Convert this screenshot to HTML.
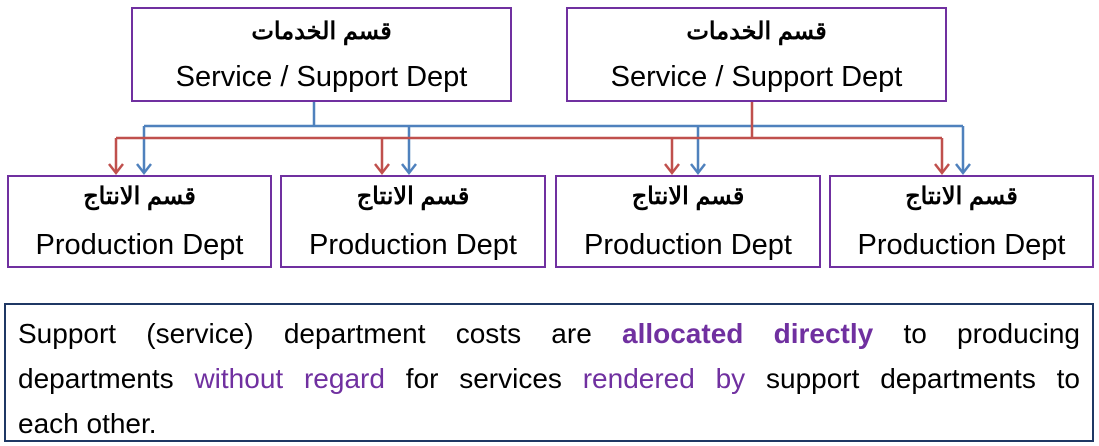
<!DOCTYPE html>
<html><head><meta charset="utf-8"><style>
body{margin:0;width:1099px;height:446px;background:#fff;position:relative;overflow:hidden;font-family:"Liberation Sans","Noto Sans CJK SC",sans-serif;}
.b{position:absolute;border:2px solid #7030a0;box-sizing:border-box;text-align:center;color:#000;white-space:nowrap;}
.ar{font-size:24px;font-weight:bold;line-height:30px;}
.en{font-size:29px;line-height:34px;}
.t{position:absolute;left:4px;top:303px;width:1090px;height:139px;border:2px solid #1f3864;box-sizing:border-box;padding:6px 12px;font-size:28px;line-height:45px;}
.l{text-align:justify;text-align-last:justify;white-space:nowrap;}
.p{color:#7030a0}
</style></head><body>
<svg style="position:absolute;left:0;top:0" width="1099" height="446">
<g stroke="#4f81bd" stroke-width="2.5" fill="none">
<path d="M314 101V126M144 126H963M144 126V173M409 126V173M698 126V173M963 126V173"/>
<path d="M137 164L144 173L151 164M402 164L409 173L416 164M691 164L698 173L705 164M956 164L963 173L970 164"/>
</g>
<g stroke="#c0504d" stroke-width="2.5" fill="none">
<path d="M752 101V138M116 138H942M116 138V173M382 138V173M672 138V173M942 138V173"/>
<path d="M109 164L116 173L123 164M375 164L382 173L389 164M665 164L672 173L679 164M935 164L942 173L949 164"/>
</g>
</svg>
<div class="b" style="left:131px;top:7px;width:381px;height:95px;padding-top:8px"><div class="ar" dir="rtl">قسم الخدمات</div><div class="en" style="margin-top:13px">Service / Support Dept</div></div>
<div class="b" style="left:566px;top:7px;width:381px;height:95px;padding-top:8px"><div class="ar" dir="rtl">قسم الخدمات</div><div class="en" style="margin-top:13px">Service / Support Dept</div></div>
<div class="b" style="left:7px;top:175px;width:265px;height:93px;padding-top:5px"><div class="ar" dir="rtl">قسم الانتاج</div><div class="en" style="margin-top:16px">Production Dept</div></div>
<div class="b" style="left:280px;top:175px;width:266px;height:93px;padding-top:5px"><div class="ar" dir="rtl">قسم الانتاج</div><div class="en" style="margin-top:16px">Production Dept</div></div>
<div class="b" style="left:555px;top:175px;width:266px;height:93px;padding-top:5px"><div class="ar" dir="rtl">قسم الانتاج</div><div class="en" style="margin-top:16px">Production Dept</div></div>
<div class="b" style="left:829px;top:175px;width:265px;height:93px;padding-top:5px"><div class="ar" dir="rtl">قسم الانتاج</div><div class="en" style="margin-top:16px">Production Dept</div></div>
<div class="t"><div class="l">Support (service) department costs are <b class="p">allocated directly</b> to producing</div><div class="l">departments <span class="p">without regard</span> for services <span class="p">rendered by</span> support departments to</div><div>each other.</div></div>
</body></html>
